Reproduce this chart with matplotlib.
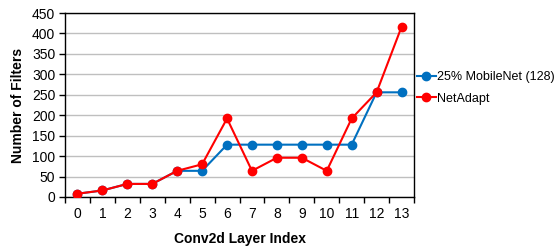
import matplotlib
matplotlib.use("Agg")
import matplotlib.pyplot as plt
from matplotlib.ticker import FixedLocator, NullFormatter

plt.rcParams['font.family'] = ['Liberation Sans', 'DejaVu Sans']

# data
layers = list(range(14))
mobilenet = [8, 16, 32, 32, 64, 64, 128, 128, 128, 128, 128, 128, 256, 256]
netadapt = [8, 16, 32, 32, 64, 80, 192, 64, 96, 96, 64, 192, 256, 416]
yticks = list(range(0, 451, 50))

fig = plt.figure(figsize=(5.59, 2.47), dpi=100)
ax = fig.add_axes([65 / 559, 1 - 197 / 247, 349 / 559, 184 / 247])

ax.plot(layers, mobilenet, color="#0070C0", lw=1.5, marker="o", ms=6,
        label="25% MobileNet (128)", zorder=3)
ax.plot(layers, netadapt, color="#FF0000", lw=1.5, marker="o", ms=6,
        label="NetAdapt", zorder=4)

ax.set_xlim(-0.5, 13.5)
ax.set_ylim(0, 450)
ax.set_yticks(yticks)
ax.set_xticks(layers)
ax.tick_params(axis="x", which="major", length=0, labelsize=10, pad=7)
ax.xaxis.set_minor_locator(FixedLocator([i - 0.5 for i in range(15)]))
ax.xaxis.set_minor_formatter(NullFormatter())
ax.tick_params(axis="x", which="minor", length=4, width=1, direction="out")
ax.tick_params(axis="y", length=4, width=1, labelsize=10, pad=3)
ax.grid(axis="y", color="#BFBFBF", lw=1)
ax.set_axisbelow(True)
for s in ax.spines.values():
    s.set_linewidth(1)
    s.set_color("black")

ax.set_xlabel("Conv2d Layer Index", fontsize=10, fontweight="bold", labelpad=8)
ax.set_ylabel("Number of Filters", fontsize=10, fontweight="bold", labelpad=5)

fig.legend(loc="center left", bbox_to_anchor=(417 / 559, 1 - 88 / 247),
           frameon=False, fontsize=9, handlelength=1.5, handletextpad=0.08,
           labelspacing=0.75, borderpad=0, borderaxespad=0)

fig.savefig("out.png", dpi=100)
